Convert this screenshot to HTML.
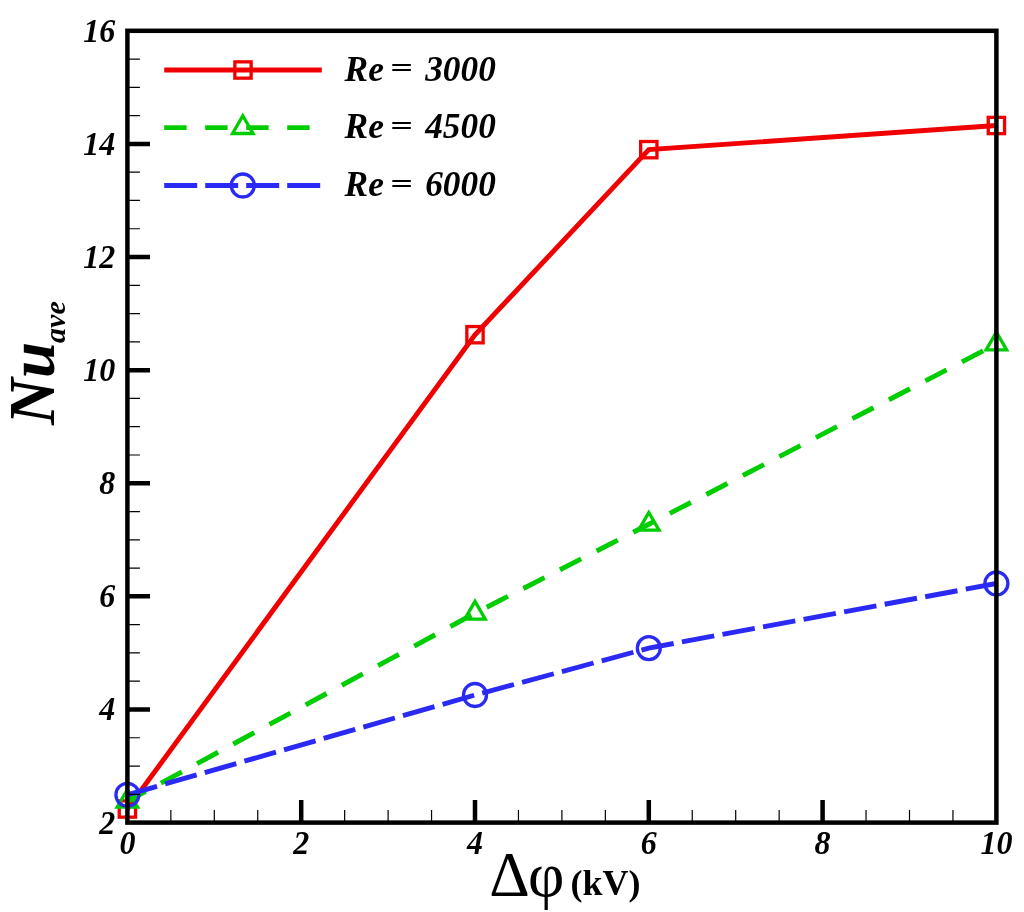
<!DOCTYPE html>
<html lang="en">
<head>
<meta charset="utf-8">
<title>Nu ave vs delta phi</title>
<style>
html,body{margin:0;padding:0;background:#fff;}
body{width:1024px;height:912px;overflow:hidden;}
svg{display:block;}
text{font-family:"Liberation Serif","DejaVu Serif",serif;fill:#000;}
.bi{font-weight:bold;font-style:italic;}
.b{font-weight:bold;}
</style>
</head>
<body>
<svg width="1024" height="912" viewBox="0 0 1024 912">
<rect x="0" y="0" width="1024" height="912" fill="#ffffff"/>
<g id="legend">
<line x1="164.2" y1="70.0" x2="321.8" y2="70.0" stroke="#f00000" stroke-width="4.9"/>
<rect x="234.85" y="61.85" width="16.3" height="16.3" fill="none" stroke="#f00000" stroke-width="3.3"/>
<line x1="164.2" y1="127.6" x2="321.8" y2="127.6" stroke="#00cd00" stroke-width="4.9" stroke-dasharray="22.4 18.6"/>
<polygon points="242.80,115.76 253.05,133.52 232.55,133.52" fill="none" stroke="#00cd00" stroke-width="3.3" stroke-linejoin="miter"/>
<line x1="164.2" y1="185.5" x2="321.8" y2="185.5" stroke="#2a2af4" stroke-width="4.9" stroke-dasharray="33 8"/>
<circle cx="242.80" cy="185.50" r="11.5" fill="none" stroke="#2a2af4" stroke-width="3.3"/>
<text class="bi" font-size="35.3" transform="translate(344.6,80.5) scale(1,1.035)">Re</text>
<text class="bi" font-size="35.3" text-anchor="middle" transform="translate(401.3,69.00) scale(1.13,0.78)" y="10.5">=</text>
<text class="bi" font-size="35.3" transform="translate(425.2,80.5) scale(1,1.035)">3000</text>
<text class="bi" font-size="35.3" transform="translate(344.6,138.1) scale(1,1.035)">Re</text>
<text class="bi" font-size="35.3" text-anchor="middle" transform="translate(401.3,126.60) scale(1.13,0.78)" y="10.5">=</text>
<text class="bi" font-size="35.3" transform="translate(425.2,138.1) scale(1,1.035)">4500</text>
<text class="bi" font-size="35.3" transform="translate(344.6,196.0) scale(1,1.035)">Re</text>
<text class="bi" font-size="35.3" text-anchor="middle" transform="translate(401.3,184.50) scale(1.13,0.78)" y="10.5">=</text>
<text class="bi" font-size="35.3" transform="translate(425.2,196.0) scale(1,1.035)">6000</text>
</g>
<g id="series">
<polyline points="127.40,809.00 475.00,334.70 648.80,149.65 996.40,125.50" fill="none" stroke="#f00000" stroke-width="4.9" stroke-linejoin="miter"/>
<rect x="119.25" y="800.85" width="16.3" height="16.3" fill="none" stroke="#f00000" stroke-width="3.3"/>
<rect x="466.85" y="326.55" width="16.3" height="16.3" fill="none" stroke="#f00000" stroke-width="3.3"/>
<rect x="640.65" y="141.50" width="16.3" height="16.3" fill="none" stroke="#f00000" stroke-width="3.3"/>
<rect x="988.25" y="117.35" width="16.3" height="16.3" fill="none" stroke="#f00000" stroke-width="3.3"/>
<polyline points="127.40,801.30 475.00,613.20 648.80,524.30 996.40,344.00" fill="none" stroke="#00cd00" stroke-width="4.9" stroke-dasharray="23.8 17.34" stroke-dashoffset="3"/>
<polygon points="127.40,789.46 137.65,807.22 117.15,807.22" fill="none" stroke="#00cd00" stroke-width="3.3" stroke-linejoin="miter"/>
<polygon points="475.00,601.36 485.25,619.12 464.75,619.12" fill="none" stroke="#00cd00" stroke-width="3.3" stroke-linejoin="miter"/>
<polygon points="648.80,512.46 659.05,530.22 638.55,530.22" fill="none" stroke="#00cd00" stroke-width="3.3" stroke-linejoin="miter"/>
<polygon points="996.40,332.16 1006.65,349.92 986.15,349.92" fill="none" stroke="#00cd00" stroke-width="3.3" stroke-linejoin="miter"/>
<polyline points="127.40,794.80 475.00,695.00 648.80,648.10 996.40,583.50" fill="none" stroke="#2a2af4" stroke-width="4.9" stroke-dasharray="32.82 8.42" stroke-dashoffset="2"/>
<circle cx="127.40" cy="794.80" r="11.5" fill="none" stroke="#2a2af4" stroke-width="3.3"/>
<circle cx="475.00" cy="695.00" r="11.5" fill="none" stroke="#2a2af4" stroke-width="3.3"/>
<circle cx="648.80" cy="648.10" r="11.5" fill="none" stroke="#2a2af4" stroke-width="3.3"/>
<circle cx="996.40" cy="583.50" r="11.5" fill="none" stroke="#2a2af4" stroke-width="3.3"/>
</g>
<g id="axes" stroke="#000" fill="none">
<path d="M170.85 822.6 V810.1 M214.30 822.6 V810.1 M257.75 822.6 V810.1 M344.65 822.6 V810.1 M388.10 822.6 V810.1 M431.55 822.6 V810.1 M518.45 822.6 V810.1 M561.90 822.6 V810.1 M605.35 822.6 V810.1 M692.25 822.6 V810.1 M735.70 822.6 V810.1 M779.15 822.6 V810.1 M866.05 822.6 V810.1 M909.50 822.6 V810.1 M952.95 822.6 V810.1 M127.4 794.32 H139.9 M127.4 766.04 H139.9 M127.4 737.76 H139.9 M127.4 681.21 H139.9 M127.4 652.93 H139.9 M127.4 624.65 H139.9 M127.4 568.09 H139.9 M127.4 539.81 H139.9 M127.4 511.54 H139.9 M127.4 454.98 H139.9 M127.4 426.70 H139.9 M127.4 398.42 H139.9 M127.4 341.86 H139.9 M127.4 313.59 H139.9 M127.4 285.31 H139.9 M127.4 228.75 H139.9 M127.4 200.47 H139.9 M127.4 172.19 H139.9 M127.4 115.64 H139.9 M127.4 87.36 H139.9 M127.4 59.08 H139.9" stroke-width="1.2"/>
<path d="M301.20 822.6 V800.0 M475.00 822.6 V800.0 M648.80 822.6 V800.0 M822.60 822.6 V800.0 M127.4 709.49 H150.0 M127.4 596.37 H150.0 M127.4 483.26 H150.0 M127.4 370.14 H150.0 M127.4 257.03 H150.0 M127.4 143.91 H150.0" stroke-width="4.5"/>
<rect x="127.4" y="30.8" width="869.0" height="791.8000000000001" stroke-width="4.5"/>
</g>
<g id="ticklabels" class="bi" font-size="32">
<text transform="translate(115.3,833.50) scale(1,1.035)" text-anchor="end">2</text>
<text transform="translate(115.3,720.39) scale(1,1.035)" text-anchor="end">4</text>
<text transform="translate(115.3,607.27) scale(1,1.035)" text-anchor="end">6</text>
<text transform="translate(115.3,494.16) scale(1,1.035)" text-anchor="end">8</text>
<text transform="translate(115.3,381.04) scale(1,1.035)" text-anchor="end">10</text>
<text transform="translate(115.3,267.93) scale(1,1.035)" text-anchor="end">12</text>
<text transform="translate(115.3,154.81) scale(1,1.035)" text-anchor="end">14</text>
<text transform="translate(115.3,41.70) scale(1,1.035)" text-anchor="end">16</text>
<text transform="translate(127.40,854.4) scale(1,1.035)" text-anchor="middle">0</text>
<text transform="translate(301.20,854.4) scale(1,1.035)" text-anchor="middle">2</text>
<text transform="translate(475.00,854.4) scale(1,1.035)" text-anchor="middle">4</text>
<text transform="translate(648.80,854.4) scale(1,1.035)" text-anchor="middle">6</text>
<text transform="translate(822.60,854.4) scale(1,1.035)" text-anchor="middle">8</text>
<text transform="translate(996.40,854.4) scale(1,1.035)" text-anchor="middle">10</text>
</g>
<g id="titles">
<text transform="translate(53.5,425) rotate(-90)" class="bi" font-size="65">Nu<tspan font-size="30" dx="-1" dy="11.5">ave</tspan></text>
<text x="489.3" y="895.6" font-size="63">Δ<tspan dx="-1.7">φ</tspan></text><text x="570.6" y="894.8" class="b" font-size="36">(kV)</text>
</g>
</svg>
</body>
</html>
